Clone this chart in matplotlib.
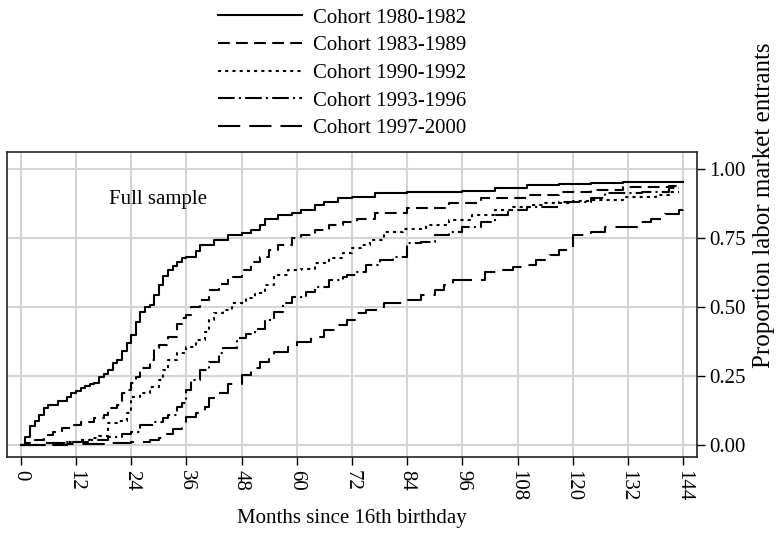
import matplotlib

matplotlib.use("Agg")
import matplotlib.pyplot as plt

plt.rcParams["font.family"] = ["Liberation Serif", "DejaVu Serif"]
plt.rcParams["lines.scale_dashes"] = False

# Kaplan-Meier style entry curves, months since 16th birthday
m_8082 = [0, 1, 2, 3, 4, 5, 6, 8, 10, 11, 12, 13, 14, 15, 16, 17, 18, 19, 20,
          21, 22, 23, 24, 25, 26, 27, 28, 29, 30, 31, 32, 33, 34, 35, 36, 38,
          39, 42, 45, 48, 50, 52, 53, 56, 59, 61, 64, 66, 69, 72, 77, 84, 96,
          103, 110, 117, 124, 131, 144]
v_8082 = [0.0, 0.03, 0.07, 0.09, 0.11, 0.135, 0.146, 0.16, 0.175, 0.19, 0.198,
          0.207, 0.215, 0.222, 0.227, 0.248, 0.26, 0.272, 0.30, 0.31, 0.34,
          0.37, 0.40, 0.447, 0.484, 0.50, 0.51, 0.545, 0.58, 0.613, 0.635,
          0.649, 0.665, 0.677, 0.683, 0.705, 0.725, 0.743, 0.761, 0.77, 0.779,
          0.797, 0.82, 0.833, 0.843, 0.852, 0.87, 0.882, 0.894, 0.90, 0.912,
          0.916, 0.92, 0.93, 0.942, 0.946, 0.95, 0.953, 0.955]

m_8389 = [0, 1, 3, 5, 7, 9, 11, 13, 16, 18, 19, 21, 22, 23, 24, 25, 26, 28, 29,
          30, 32, 34, 35, 36, 37, 39, 41, 43, 45, 48, 50, 52, 54, 56, 59, 61,
          64, 67, 70, 73, 77, 84, 93, 100, 110, 117, 124, 131, 141, 143]
v_8389 = [0.0, 0.01, 0.02, 0.037, 0.05, 0.062, 0.073, 0.085, 0.098, 0.11,
          0.135, 0.146, 0.19, 0.20, 0.225, 0.248, 0.28, 0.309, 0.352, 0.363,
          0.393, 0.441, 0.46, 0.472, 0.50, 0.526, 0.562, 0.586, 0.61, 0.634,
          0.665, 0.683, 0.707, 0.725, 0.749, 0.761, 0.779, 0.797, 0.809, 0.821,
          0.84, 0.858, 0.876, 0.894, 0.906, 0.918, 0.926, 0.934, 0.938, 0.94]

m_9092 = [0, 6, 10, 13, 15, 17, 19, 21, 23, 24, 26, 28, 30, 31, 32, 34, 36, 38,
          40, 41, 42, 44, 46, 49, 51, 53, 55, 58, 61, 64, 67, 70, 72, 74, 76,
          79, 83, 88, 93, 98, 103, 107, 111, 114, 120, 124, 131, 138, 141, 143]
v_9092 = [0.0, 0.008, 0.013, 0.019, 0.025, 0.034, 0.08, 0.09, 0.116, 0.176,
          0.188, 0.212, 0.236, 0.272, 0.309, 0.333, 0.357, 0.381, 0.411, 0.453,
          0.478, 0.49, 0.514, 0.532, 0.55, 0.58, 0.616, 0.634, 0.64, 0.659,
          0.677, 0.695, 0.713, 0.725, 0.743, 0.773, 0.785, 0.797, 0.815, 0.833,
          0.852, 0.864, 0.87, 0.876, 0.885, 0.89, 0.90, 0.906, 0.918, 0.918]

m_9396 = [0, 5, 10, 15, 19, 22, 24, 26, 29, 31, 32, 34, 35, 36, 37, 39, 41, 43,
          44, 47, 49, 51, 53, 55, 57, 59, 62, 64, 67, 70, 71, 73, 75, 78, 81,
          84, 87, 90, 93, 96, 100, 103, 106, 110, 117, 124, 127, 135, 141, 143]
v_9396 = [0.0, 0.008, 0.012, 0.019, 0.031, 0.043, 0.049, 0.073, 0.085, 0.098,
          0.11, 0.14, 0.152, 0.20, 0.236, 0.272, 0.303, 0.333, 0.351, 0.39,
          0.405, 0.42, 0.453, 0.484, 0.514, 0.538, 0.556, 0.574, 0.598, 0.61,
          0.616, 0.628, 0.652, 0.671, 0.683, 0.731, 0.737, 0.761, 0.773, 0.791,
          0.809, 0.833, 0.852, 0.864, 0.882, 0.894, 0.912, 0.918, 0.93, 0.93]

m_9700 = [0, 10, 19, 24, 28, 30, 31, 33, 35, 36, 38, 40, 41, 43, 45, 48, 50, 52,
          54, 55, 58, 60, 63, 66, 69, 71, 73, 75, 79, 83, 87, 90, 92, 94, 101,
          104, 107, 110, 112, 115, 117, 120, 124, 127, 134, 137, 140, 143, 144]
v_9700 = [0.0, 0.004, 0.007, 0.013, 0.019, 0.025, 0.043, 0.061, 0.08, 0.104,
          0.116, 0.14, 0.17, 0.188, 0.224, 0.254, 0.279, 0.303, 0.32, 0.339,
          0.357, 0.375, 0.393, 0.417, 0.435, 0.453, 0.478, 0.49, 0.514, 0.526,
          0.544, 0.562, 0.58, 0.598, 0.628, 0.634, 0.646, 0.652, 0.671, 0.689,
          0.707, 0.761, 0.773, 0.791, 0.809, 0.821, 0.839, 0.852, 0.86]

cohorts = ["Cohort 1980-1982", "Cohort 1983-1989", "Cohort 1990-1992",
           "Cohort 1993-1996", "Cohort 1997-2000"]
x_ticks = list(range(0, 145, 12))
y_ticks = [0.0, 0.25, 0.5, 0.75, 1.0]

series = [(m_8082, v_8082), (m_8389, v_8389), (m_9092, v_9092),
          (m_9396, v_9396), (m_9700, v_9700)]
# solid, dash, shortdash (dots), dash-dot, long dash
styles = ["-", (0, (8.5, 4.5)), (0, (2.2, 3.0)), (0, (12, 3, 1.5, 3)),
          (0, (16, 6.5))]

fig = plt.figure(figsize=(7.76, 5.34), dpi=100)
ax = fig.add_axes([7 / 776, 77 / 534, 690 / 776, 305 / 534])

for (m, v), ls, name in zip(series, styles, cohorts):
    ax.plot(m, v, drawstyle="steps-post", color="black", lw=1.5, ls=ls,
            label=name)

ax.set_xlim(-3, 147)
ax.set_ylim(-0.042, 1.062)
ax.set_xticks(x_ticks)
ax.set_xticklabels([str(t) for t in x_ticks], rotation=270, fontsize=15)
ax.set_yticks(y_ticks)
ax.set_yticklabels(["%.2f" % t for t in y_ticks], fontsize=15)
ax.yaxis.tick_right()
ax.tick_params(axis="x", length=6, width=1, pad=3)
ax.tick_params(axis="y", length=6, width=1, pad=3)
ax.grid(True, color="#d4d4d4", lw=1.5)
ax.set_axisbelow(True)
for sp in ax.spines.values():
    sp.set_linewidth(1.2)
    sp.set_color("#222222")

ax.set_xlabel("Months since 16th birthday", fontsize=15, labelpad=6)
fig.text(764 / 776, 1 - 205 / 534, "Proportion labor market entrants",
         fontsize=18, rotation=90, ha="center", va="center")
ax.text(29.8, 0.89, "Full sample", fontsize=15, ha="center", va="center")

fig.legend(loc="upper left", bbox_to_anchor=(218 / 776, 1 - 8 / 534),
           frameon=False, fontsize=15, handlelength=4.05, handletextpad=0.5,
           labelspacing=0.39, borderpad=0, borderaxespad=0)

fig.savefig("out.png", dpi=100)
